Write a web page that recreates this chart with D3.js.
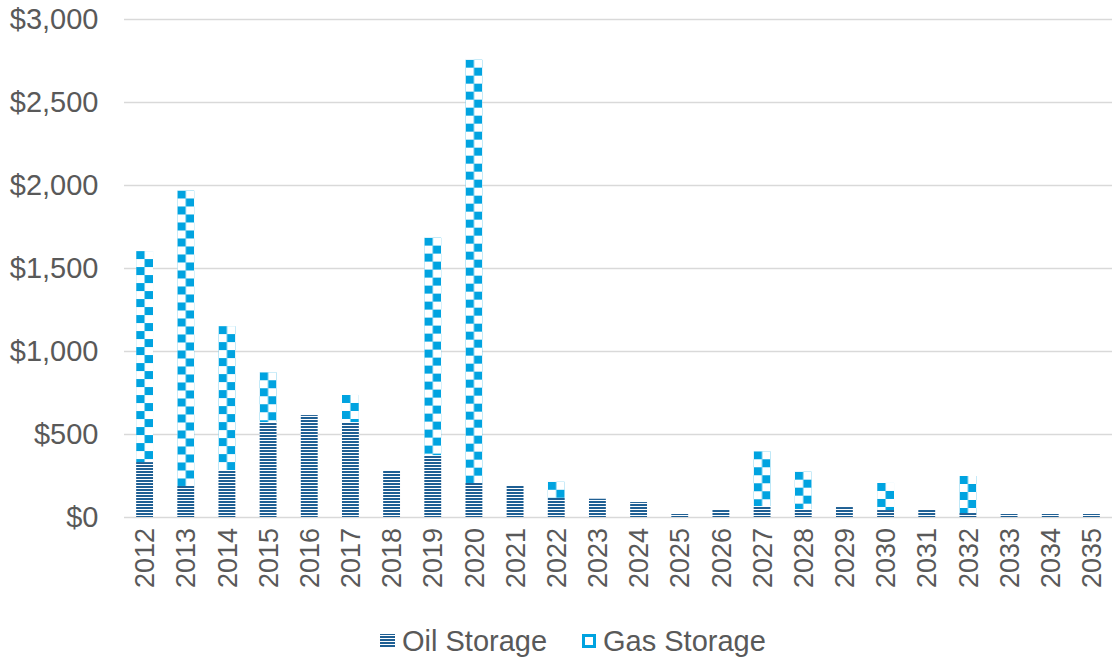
<!DOCTYPE html>
<html>
<head>
<meta charset="utf-8">
<script src="https://cdn.jsdelivr.net/npm/d3@7"></script>
<style>
  html, body { margin: 0; padding: 0; background: #fff; }
  svg { display: block; }
  text { font-family: "Liberation Sans", Arial, sans-serif; fill: #595959; }
</style>
</head>
<body>
<svg id="chart" width="1112" height="662"></svg>
<script>
const years = ["2012","2013","2014","2015","2016","2017","2018","2019","2020","2021","2022","2023","2024","2025","2026","2027","2028","2029","2030","2031","2032","2033","2034","2035"];
const oilStorage = [331, 187, 283, 572, 614, 572, 283, 373, 205, 187, 115, 110, 90, 18, 42, 66, 48, 60, 42, 42, 24, 18, 18, 18];
const gasStorage = [1271, 1780, 867, 300, 0, 163, 0, 1310, 2550, 0, 97, 0, 0, 0, 0, 330, 225, 0, 163, 0, 223, 0, 0, 0];
const yTicks = [0, 500, 1000, 1500, 2000, 2500, 3000];
const seriesNames = ["Oil Storage", "Gas Storage"];

const oilColor = "#1F5F93";
const gasColor = "#00A3E0";
const gridColor = "#d9d9d9";

const svg = d3.select("#chart");
const mLeft = 124, mRight = 1112, mTop = 19, mBottom = 517;

const x = d3.scaleBand().domain(years).range([mLeft, mRight]).paddingInner(0.59).paddingOuter(0.295);
const y = d3.scaleLinear().domain([0, 3000]).range([mBottom, mTop]);
const fmt = v => "$" + d3.format(",")(v);

const defs = svg.append("defs");
const op = defs.append("pattern").attr("id", "oilPat").attr("patternUnits", "userSpaceOnUse")
  .attr("width", 6).attr("height", 3);
op.append("rect").attr("width", 6).attr("height", 3).attr("fill", "#fff");
op.append("rect").attr("width", 6).attr("height", 2).attr("fill", oilColor);

const bw = x.bandwidth();
const cell = bw / 2;
years.forEach((yr, i) => {
  const p = defs.append("pattern").attr("id", "gasPat" + i).attr("patternUnits", "userSpaceOnUse")
    .attr("x", x(yr)).attr("y", y(oilStorage[i] + gasStorage[i]))
    .attr("width", cell * 2).attr("height", 16);
  p.append("rect").attr("width", cell * 2).attr("height", 16).attr("fill", "#fff");
  p.append("rect").attr("x", 0).attr("y", 0).attr("width", cell).attr("height", 8).attr("fill", gasColor);
  p.append("rect").attr("x", cell).attr("y", 8).attr("width", cell).attr("height", 8).attr("fill", gasColor);
});

svg.append("g").selectAll("line").data(yTicks).join("line")
  .attr("x1", mLeft).attr("x2", mRight)
  .attr("y1", d => Math.round(y(d)) + 0.5).attr("y2", d => Math.round(y(d)) + 0.5)
  .attr("stroke", gridColor).attr("stroke-width", 1.3);

svg.append("g").selectAll("text").data(yTicks).join("text")
  .attr("x", 98.5).attr("y", d => y(d)).attr("dy", "0.36em")
  .attr("text-anchor", "end").style("font-size", "29px").text(fmt);

const bars = svg.append("g");
bars.selectAll("rect.oil").data(years).join("rect").attr("class", "oil")
  .attr("x", d => x(d)).attr("width", bw)
  .attr("y", (d, i) => y(oilStorage[i])).attr("height", (d, i) => y(0) - y(oilStorage[i]))
  .attr("fill", "url(#oilPat)");
bars.selectAll("rect.gas").data(years).join("rect").attr("class", "gas")
  .attr("x", d => x(d)).attr("width", bw)
  .attr("y", (d, i) => y(oilStorage[i] + gasStorage[i]))
  .attr("height", (d, i) => y(oilStorage[i]) - y(oilStorage[i] + gasStorage[i]))
  .attr("fill", (d, i) => "url(#gasPat" + i + ")");

svg.append("g").selectAll("text").data(years).join("text")
  .attr("transform", d => `translate(${x(d) + bw / 2},528) rotate(-90)`)
  .attr("dy", "0.36em").attr("text-anchor", "end").style("font-size", "27px").text(d => d);

const lg = svg.append("g");
lg.append("rect").attr("x", 380).attr("y", 634).attr("width", 15).attr("height", 14).attr("fill", "url(#oilPat)");
lg.append("text").attr("x", 402).attr("y", 641).attr("dy", "0.36em").style("font-size", "29px").text(seriesNames[0]);
lg.append("rect").attr("x", 583.5).attr("y", 635.5).attr("width", 11).attr("height", 11)
  .attr("fill", "#fff").attr("stroke", gasColor).attr("stroke-width", 3);
lg.append("text").attr("x", 603).attr("y", 641).attr("dy", "0.36em").style("font-size", "29px").text(seriesNames[1]);
</script>
</body>
</html>
